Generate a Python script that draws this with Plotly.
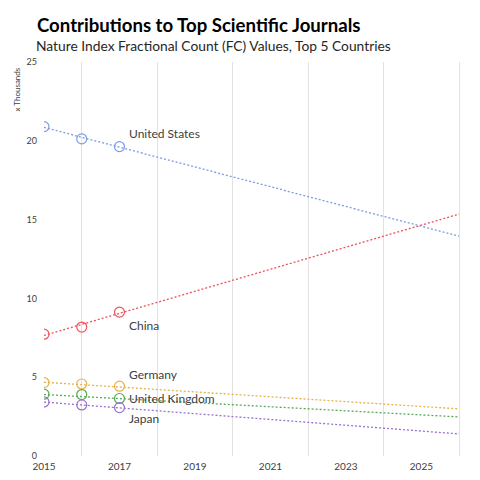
import plotly.graph_objects as go

# Nature Index FC values (thousands), observed years
years = [2015, 2016, 2017]
countries = ["United States", "China", "Germany", "United Kingdom", "Japan"]
us_fc = [20.90, 20.12, 19.63]
china_fc = [7.73, 8.18, 9.13]
germany_fc = [4.66, 4.57, 4.43]
uk_fc = [3.92, 3.90, 3.65]
japan_fc = [3.43, 3.24, 3.07]

# linear trend lines (Excel-style forecast), value at start and end year
trend_years = [2015, 2026]
us_trend = [20.85, 13.95]
china_trend = [7.65, 15.35]
germany_trend = [4.68, 2.99]
uk_trend = [3.90, 2.48]
japan_trend = [3.42, 1.40]

# label anchor (y value, in thousands) beside each series
label_y = [20.45, 8.26, 5.20, 3.62, 2.35]

colors = ["#7c9be0", "#f0505a", "#e3b24a", "#5aa85a", "#9a72d2"]

series = list(zip(countries, [us_fc, china_fc, germany_fc, uk_fc, japan_fc],
                  [us_trend, china_trend, germany_trend, uk_trend, japan_trend]))

FONT = "Lato, 'Open Sans', sans-serif"

fig = go.Figure()
for (name, values, trend), color in zip(series, colors):
    fig.add_trace(go.Scatter(
        x=trend_years, y=trend, mode="lines",
        line=dict(color=color, width=1.3, dash="2px,2px"),
        showlegend=False, hoverinfo="skip",
    ))
    fig.add_trace(go.Scatter(
        x=years, y=values, mode="markers", name=name,
        marker=dict(symbol="circle-open", size=10, color=color, line=dict(width=1.2)),
        showlegend=False,
    ))

for name, y in zip(countries, label_y):
    fig.add_annotation(
        x=2017.2, y=y, text=name, showarrow=False, xanchor="left", yanchor="middle",
        font=dict(family=FONT, size=12, color="#404040"),
    )

fig.add_annotation(
    xref="paper", yref="paper", x=-0.024, y=1.042,
    text="Nature Index Fractional Count (FC) Values, Top 5 Countries",
    showarrow=False, xanchor="left", yanchor="middle",
    font=dict(family=FONT, size=13.8, color="#262626"),
)
fig.add_annotation(
    xref="paper", yref="paper", x=-0.065, y=0.93, text="x Thousands", textangle=-90,
    showarrow=False, xanchor="center", yanchor="middle",
    font=dict(family=FONT, size=8, color="#404040"),
)

fig.update_xaxes(
    range=[2015, 2026.05], tickmode="linear", tick0=2015, dtick=2,
    showgrid=False, zeroline=False, showline=False, ticklabelstandoff=3, automargin=False,
    minor=dict(showgrid=True, dtick=1, tick0=2015, gridcolor="#e2e2e2", gridwidth=1),
    tickfont=dict(family=FONT, size=10, color="#404040"),
)
fig.update_yaxes(
    range=[0, 25], tickmode="linear", tick0=0, dtick=5,
    showgrid=False, zeroline=False, showline=False, ticklabelstandoff=6, automargin=False,
    tickfont=dict(family=FONT, size=9, color="#404040"),
)

# page shows the figure 8px in from the top-left, so size and margins compensate
fig.update_layout(
    width=472, height=472,
    title=dict(text="<b>Contributions to Top Scientific Journals</b>", xref="container",
               x=29 / 472, xanchor="left", y=1 - 17.5 / 472, yanchor="middle",
               font=dict(family=FONT, size=18.6, color="#000000")),
    plot_bgcolor="white", paper_bgcolor="white",
    margin=dict(l=36, r=19, t=54, b=24),
    showlegend=False,
)

fig.write_html("out.html")
